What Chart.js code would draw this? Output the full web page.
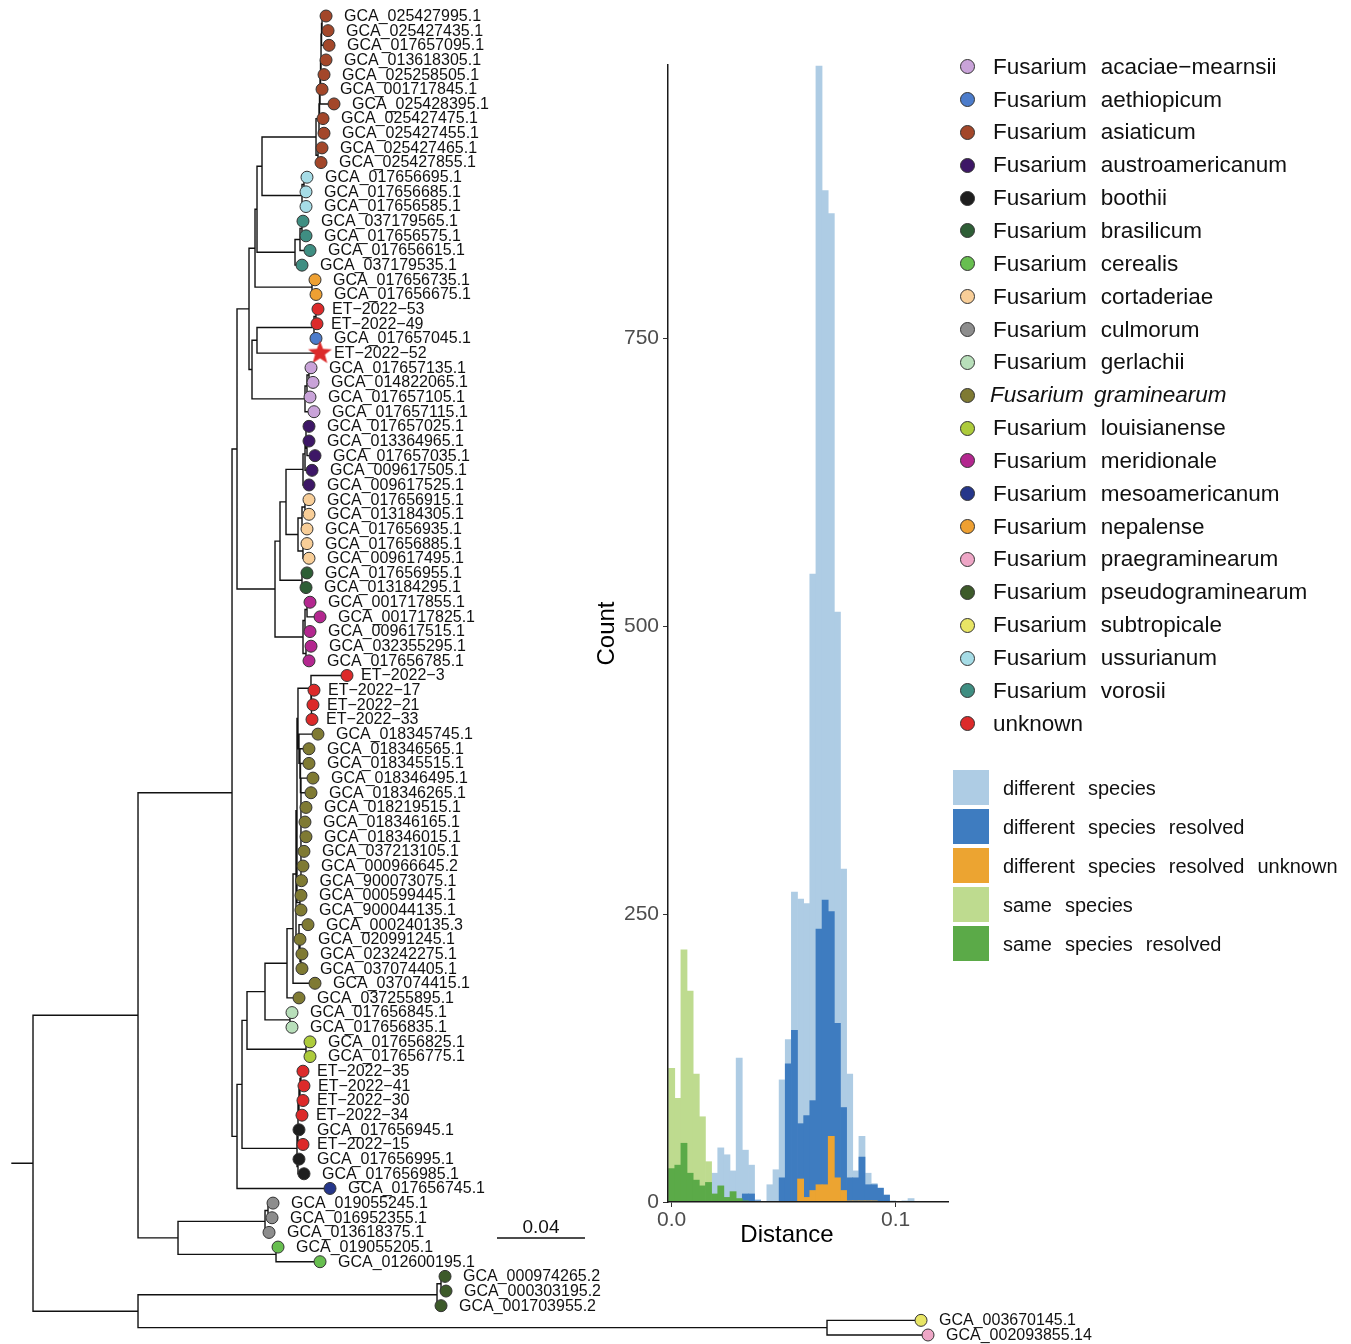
<!DOCTYPE html>
<html lang="en">
<head>
<meta charset="utf-8">
<title>Fusarium phylogeny and pairwise distance histogram</title>
<script src="https://cdn.jsdelivr.net/npm/chart.js@4.4.1/dist/chart.umd.min.js"></script>
<style>
  html, body { margin: 0; padding: 0; background: #ffffff; overflow: hidden; }
  #stage { position: relative; width: 1351px; height: 1344px; font-family: "Liberation Sans", Arial, Helvetica, sans-serif; color: #111; }
  #tree { position: absolute; left: 0; top: 0; }
  #hist { position: absolute; left: 560px; top: 40px; }
  .dot { position: absolute; width: 13px; height: 13px; border: 1px solid #333; border-radius: 50%; }
  .swatch { position: absolute; width: 36px; height: 35px; }
  .sp { position: absolute; font-size: 22.5px; line-height: 30px; white-space: nowrap; word-spacing: 7.75px; }
  .sp.it { font-style: italic; word-spacing: 4px; }
  .fl { position: absolute; font-size: 20px; line-height: 30px; white-space: nowrap; word-spacing: 7.5px; }
</style>
</head>
<body>
<div id="stage">
  <canvas id="tree" width="1351" height="1344"></canvas>
  <canvas id="hist" width="400" height="1230"></canvas>
</div>
<script>
// ---------------- species palette ----------------
const speciesKeys = [
  'acaciae−mearnsii', 'aethiopicum', 'asiaticum', 'austroamericanum', 'boothii',
  'brasilicum', 'cerealis', 'cortaderiae', 'culmorum', 'gerlachii', 'graminearum',
  'louisianense', 'meridionale', 'mesoamericanum', 'nepalense', 'praegraminearum',
  'pseudograminearum', 'subtropicale', 'ussurianum', 'vorosii', 'unknown'
];
const speciesColors = [
  '#C9A3D9', '#4C7CCB', '#A3472A', '#3D1766', '#1E1E1E',
  '#2E5E36', '#67BE4F', '#F8CE98', '#8D8D8D', '#B8DFBA', '#7F7A33',
  '#ADCB3B', '#B3278F', '#25368A', '#EEA032', '#EEA6C6',
  '#3D5A2A', '#E8E565', '#A6DCE6', '#3F8E82', '#DC2A2A'
];
const italicSpecies = ['graminearum'];

// ---------------- tips, top to bottom ----------------
const tipLabels = [
  'GCA_025427995.1', 'GCA_025427435.1', 'GCA_017657095.1', 'GCA_013618305.1', 'GCA_025258505.1',
  'GCA_001717845.1', 'GCA_025428395.1', 'GCA_025427475.1', 'GCA_025427455.1', 'GCA_025427465.1',
  'GCA_025427855.1', 'GCA_017656695.1', 'GCA_017656685.1', 'GCA_017656585.1', 'GCA_037179565.1',
  'GCA_017656575.1', 'GCA_017656615.1', 'GCA_037179535.1', 'GCA_017656735.1', 'GCA_017656675.1',
  'ET−2022−53', 'ET−2022−49', 'GCA_017657045.1', 'ET−2022−52', 'GCA_017657135.1',
  'GCA_014822065.1', 'GCA_017657105.1', 'GCA_017657115.1', 'GCA_017657025.1', 'GCA_013364965.1',
  'GCA_017657035.1', 'GCA_009617505.1', 'GCA_009617525.1', 'GCA_017656915.1', 'GCA_013184305.1',
  'GCA_017656935.1', 'GCA_017656885.1', 'GCA_009617495.1', 'GCA_017656955.1', 'GCA_013184295.1',
  'GCA_001717855.1', 'GCA_001717825.1', 'GCA_009617515.1', 'GCA_032355295.1', 'GCA_017656785.1',
  'ET−2022−3', 'ET−2022−17', 'ET−2022−21', 'ET−2022−33', 'GCA_018345745.1',
  'GCA_018346565.1', 'GCA_018345515.1', 'GCA_018346495.1', 'GCA_018346265.1', 'GCA_018219515.1',
  'GCA_018346165.1', 'GCA_018346015.1', 'GCA_037213105.1', 'GCA_000966645.2', 'GCA_900073075.1',
  'GCA_000599445.1', 'GCA_900044135.1', 'GCA_000240135.3', 'GCA_020991245.1', 'GCA_023242275.1',
  'GCA_037074405.1', 'GCA_037074415.1', 'GCA_037255895.1', 'GCA_017656845.1', 'GCA_017656835.1',
  'GCA_017656825.1', 'GCA_017656775.1', 'ET−2022−35', 'ET−2022−41', 'ET−2022−30',
  'ET−2022−34', 'GCA_017656945.1', 'ET−2022−15', 'GCA_017656995.1', 'GCA_017656985.1',
  'GCA_017656745.1', 'GCA_019055245.1', 'GCA_016952355.1', 'GCA_013618375.1', 'GCA_019055205.1',
  'GCA_012600195.1', 'GCA_000974265.2', 'GCA_000303195.2', 'GCA_001703955.2', 'GCA_003670145.1',
  'GCA_002093855.14'
];
const tipSpecies = [
  'asiaticum', 'asiaticum', 'asiaticum', 'asiaticum', 'asiaticum',
  'asiaticum', 'asiaticum', 'asiaticum', 'asiaticum', 'asiaticum',
  'asiaticum', 'ussurianum', 'ussurianum', 'ussurianum', 'vorosii',
  'vorosii', 'vorosii', 'vorosii', 'nepalense', 'nepalense',
  'unknown', 'unknown', 'aethiopicum', 'unknown', 'acaciae−mearnsii',
  'acaciae−mearnsii', 'acaciae−mearnsii', 'acaciae−mearnsii', 'austroamericanum', 'austroamericanum',
  'austroamericanum', 'austroamericanum', 'austroamericanum', 'cortaderiae', 'cortaderiae',
  'cortaderiae', 'cortaderiae', 'cortaderiae', 'brasilicum', 'brasilicum',
  'meridionale', 'meridionale', 'meridionale', 'meridionale', 'meridionale',
  'unknown', 'unknown', 'unknown', 'unknown', 'graminearum',
  'graminearum', 'graminearum', 'graminearum', 'graminearum', 'graminearum',
  'graminearum', 'graminearum', 'graminearum', 'graminearum', 'graminearum',
  'graminearum', 'graminearum', 'graminearum', 'graminearum', 'graminearum',
  'graminearum', 'graminearum', 'graminearum', 'gerlachii', 'gerlachii',
  'louisianense', 'louisianense', 'unknown', 'unknown', 'unknown',
  'unknown', 'boothii', 'unknown', 'boothii', 'boothii',
  'mesoamericanum', 'culmorum', 'culmorum', 'culmorum', 'cerealis',
  'cerealis', 'pseudograminearum', 'pseudograminearum', 'pseudograminearum', 'subtropicale',
  'praegraminearum'
];
const highlightedTip = 'ET−2022−52';

// ---------------- tree topology (Newick clades, branch lengths in substitutions/site) ----------------
const rootEdge = 0.00955;
const cladeAsiaticum = '(((((((((GCA_025427995.1:0.00182,GCA_025427435.1:0.00273):0.00023,GCA_017657095.1:0.00341):0.00023,GCA_013618305.1:0.00227):0,GCA_025258505.1:0.00136):0.00023,GCA_001717845.1:0.00068):0.00023,GCA_025428395.1:0.00636):0.00023,GCA_025427475.1:0.00159):0.00023,GCA_025427455.1:0.00227):0.00136,(GCA_025427465.1:0.00182,GCA_025427855.1:0.00136):0.00091)';
const cladeUssurianum = '((GCA_017656695.1:0.00136,GCA_017656685.1:0.00091):0.00091,GCA_017656585.1:0.00182)';
const cladeVorosii = '(((GCA_037179565.1:0.00045,GCA_017656575.1:0.00182):0.00091,GCA_017656615.1:0.00455):0.00227,GCA_037179535.1:0.00318)';
const cladeNepalense = '(GCA_017656735.1:0.00136,GCA_017656675.1:0.00182)';
const cladeAethiopicum = '((ET−2022−53:0.00091,ET−2022−49:0.00045):0.00091,GCA_017657045.1:0.00091)';
const cladeAcaciae = '(((GCA_017657135.1:0.00091,GCA_014822065.1:0.00182):0.00091,GCA_017657105.1:0.00136):0.00091,GCA_017657115.1:0.00409)';
const cladeAustro = '(((GCA_017657025.1:0.00136,(GCA_013364965.1:0.00091,GCA_017657035.1:0.00364):0.00045):0.00045,GCA_009617505.1:0.00318):0.00091,GCA_009617525.1:0.00273)';
const cladeCortaderiae = '(((GCA_017656915.1:0.00182,GCA_013184305.1:0.00182):0.00136,GCA_017656935.1:0.00227):0.00182,(GCA_017656885.1:0.00182,GCA_009617495.1:0.00273):0.00227)';
const cladeBrasilicum = '(GCA_017656955.1:0.00227,GCA_013184295.1:0.00182)';
const cladeMeridionale = '(((GCA_001717855.1:0.00136,GCA_001717825.1:0.00591):0.00091,GCA_009617515.1:0.00227):0.00091,(GCA_032355295.1:0.00227,GCA_017656785.1:0.00136):0.00136)';
const cladeET3 = '(ET−2022−3:0.01636,(ET−2022−17:0.00114,(ET−2022−21:0.00068,ET−2022−33:0.00023):0):0.00023)';
const gramUpper = '(GCA_018345745.1:0.00864,(GCA_018346565.1:0.00409,(GCA_018345515.1:0.00386,(GCA_018346495.1:0.00545,(GCA_018346265.1:0.00455,(GCA_018219515.1:0.00227,(GCA_018346165.1:0.00182,(GCA_018346015.1:0.00227,(GCA_037213105.1:0.00136,(GCA_000966645.2:0.00091,GCA_900073075.1:0.00023):0):0):0):0):0):0):0.00023):0.00023):0.00045)';
const gramLower = '(GCA_000240135.3:0.00409,(GCA_020991245.1:0,(GCA_023242275.1:0.00045,GCA_037074405.1:0.00045):0.00045):0.00045)';
const cladeGramET = `(((((${cladeET3}:0.00591,${gramUpper}:0.00045):0.00045,(GCA_000599445.1:0.00045,GCA_900044135.1:0.00045):0.00136):0.00045,${gramLower}:0.00136):0.00136,GCA_037074415.1:0.01):0.00273,GCA_037255895.1:0.00545)`;
const cladeGerlachii = '(GCA_017656845.1:0.00091,GCA_017656835.1:0.00091)';
const cladeLouisianense = '(GCA_017656825.1:0.00182,GCA_017656775.1:0.00182)';
const cladeBoothii = '((((((ET−2022−35:0.00091,ET−2022−41:0.00136):0.00045,ET−2022−30:0.00136):0.00045,ET−2022−34:0.00136):0.00045,GCA_017656945.1:0.00045):0,ET−2022−15:0.00227):0.00045,(GCA_017656995.1:0.00045,GCA_017656985.1:0.00273):0.00045)';
const cladeCulmorum = '((GCA_019055245.1:0.00227,GCA_016952355.1:0.00182):0.00136,GCA_013618375.1:0.00182)';
const cladeCerealis = '(GCA_019055205.1:0.00091,GCA_012600195.1:0.02)';
const cladePseudogram = '((GCA_000974265.2:0.00182,GCA_000303195.2:0.00227):0.00182,GCA_001703955.2:0.00182)';
const cladeOutgroup = '(GCA_003670145.1:0.04273,GCA_002093855.14:0.04591)';

const treeNewick = `(
 (
  (
   (
    (
     (
      (
       (${cladeAsiaticum}:0.02455,${cladeUssurianum}:0.01818):0.00227,
       ${cladeVorosii}:0.01727
      ):0.00091,
      ${cladeNepalense}:0.02591
     ):0.00273,
     ((${cladeAethiopicum}:0.02591,ET−2022−52:0.02864):0.00227,${cladeAcaciae}:0.02409):0.00136
    ):0.00545,
    (((${cladeAustro}:0.00773,${cladeCortaderiae}:0.00545):0.00273,${cladeBrasilicum}:0.01):0.00227,${cladeMeridionale}:0.01273):0.01727
   ):0.00227,
   ((((${cladeGramET}:0.01,${cladeGerlachii}:0.01136):0.00818,${cladeLouisianense}:0.02682):0.00227,${cladeBoothii}:0.025):0.00227,GCA_017656745.1:0.04227):0.00227
  ):0.04273,
  (${cladeCulmorum}:0.03955,${cladeCerealis}:0.04455):0.01818
 ):0.04773,
 (${cladePseudogram}:0.13591,${cladeOutgroup}:0.31318):0.04773
);`;

// scale bar
const scaleBarLength = 0.04;
const scaleBarLabel = '0.04';
const scaleBarX = 0.22045;
const scaleBarRow = 84.38;

// ---------------- pairwise distance histogram ----------------
const distanceBins = [
  0, 0.00274, 0.00548, 0.00822, 0.01096, 0.0137, 0.01644, 0.01918, 0.02192, 0.02466,
  0.0274, 0.03014, 0.03288, 0.03562, 0.03836, 0.0411, 0.04384, 0.04658, 0.04932, 0.05206,
  0.0548, 0.05754, 0.06028, 0.06302, 0.06576, 0.0685, 0.07124, 0.07398, 0.07672, 0.07946,
  0.0822, 0.08494, 0.08768, 0.09042, 0.09316, 0.0959, 0.09864, 0.10138, 0.10412, 0.10686
];
const diffSpecies = [
  0, 0, 0, 0, 0, 0, 0, 25, 47, 41,
  27, 125, 45, 32, 2, 0, 15, 28, 106, 141,
  269, 263, 259, 545, 986, 878, 858, 512, 289, 111,
  27, 57, 25, 16, 12, 6, 1, 0, 1, 3
];
const diffResolved = [
  0, 0, 0, 0, 0, 0, 0, 0, 0, 0,
  0, 0, 7, 7, 1, 0, 0, 0, 21, 120,
  149, 68, 75, 88, 237, 262, 252, 155, 82, 21,
  21, 39, 15, 15, 12, 6, 0, 0, 0, 0
];
const diffResolvedUnknown = [
  0, 0, 0, 0, 0, 0, 0, 0, 0, 0,
  0, 0, 0, 0, 0, 0, 0, 0, 0, 0,
  0, 20, 4, 10, 15, 15, 57, 21, 10, 1,
  1, 1, 1, 1, 0, 0, 0, 0, 0, 0
];
const sameSpecies = [
  116, 90, 219, 183, 111, 74, 35, 0, 0, 0,
  0, 0, 0, 0, 0, 0, 0, 0, 0, 0,
  0, 0, 0, 0, 0, 0, 0, 0, 0, 0,
  0, 0, 0, 0, 0, 0, 0, 0, 0, 0
];
const sameResolved = [
  29, 32, 51, 25, 19, 14, 17, 7, 14, 4,
  9, 3, 1, 0, 0, 0, 0, 0, 0, 0,
  0, 0, 0, 0, 0, 0, 0, 0, 0, 0,
  0, 0, 0, 0, 0, 0, 0, 0, 0, 0
];
const histSeriesNames = ['different species', 'different species resolved', 'different species resolved unknown', 'same species', 'same species resolved'];
const histSeriesColors = ['#AECCE4', '#3E7CC0', '#ECA431', '#BEDB8F', '#5BAA48'];
const distanceTicks = [0, 0.1];
const countTicks = [0, 250, 500, 750];

// =====================================================================
const FONT = '"Liberation Sans", Arial, Helvetica, sans-serif';
Chart.defaults.font.family = FONT;
Chart.defaults.animation = false;

function parseNewick(text) {
  const s = text.replace(/\s+/g, '');
  let i = 0;
  function node() {
    const n = { name: '', length: 0, children: [] };
    if (s[i] === '(') {
      i++;
      n.children.push(node());
      while (s[i] === ',') { i++; n.children.push(node()); }
      i++; // closing paren
    }
    let name = '';
    while (i < s.length && !',():;'.includes(s[i])) name += s[i++];
    n.name = name;
    if (s[i] === ':') {
      i++;
      let num = '';
      while (i < s.length && !',();'.includes(s[i])) num += s[i++];
      n.length = parseFloat(num);
    }
    return n;
  }
  return node();
}

// rectangular layout: tips get consecutive rows, internal nodes sit at the mean of their children
function layoutTree(n, x, tips) {
  n.x = x;
  if (!n.children.length) {
    n.y = tips.length + 1;
    tips.push(n);
  } else {
    n.children.forEach(c => layoutTree(c, x + c.length, tips));
    n.y = n.children.reduce((a, c) => a + c.y, 0) / n.children.length;
  }
}

const GAP = { x: NaN, y: NaN };
function collectBranches(n, parentX, out) {
  if (parentX !== null) out.push({ x: parentX, y: n.y }, { x: n.x, y: n.y }, GAP);
  if (n.children.length) {
    const ys = n.children.map(c => c.y);
    out.push({ x: n.x, y: Math.min(...ys) }, { x: n.x, y: Math.max(...ys) }, GAP);
    n.children.forEach(c => collectBranches(c, n.x, out));
  }
}

const treeRoot = parseNewick(treeNewick);
const tips = [];
layoutTree(treeRoot, rootEdge, tips);
if (tips.length !== tipLabels.length) throw new Error('tip count ' + tips.length);
tips.forEach((t, k) => { if (t.name !== tipLabels[k]) throw new Error('tip order at ' + k + ': ' + t.name); });

const branchPath = [{ x: 0, y: treeRoot.y }, { x: rootEdge, y: treeRoot.y }, GAP];
collectBranches(treeRoot, null, branchPath);

function starMarker(color, outer, inner) {
  const size = Math.ceil(outer * 2 + 2);
  const c = document.createElement('canvas');
  c.width = size; c.height = size;
  const g = c.getContext('2d');
  g.translate(size / 2, size / 2);
  g.beginPath();
  for (let k = 0; k < 10; k++) {
    const r = k % 2 ? inner : outer;
    const a = -Math.PI / 2 + k * Math.PI / 5;
    g.lineTo(r * Math.cos(a), r * Math.sin(a));
  }
  g.closePath();
  g.fillStyle = color;
  g.fill();
  return c;
}

const colorOf = key => speciesColors[speciesKeys.indexOf(key)];
const tipPoints = tips.map(t => ({ x: t.x, y: t.y }));
const tipFill = tipSpecies.map(colorOf);
const star = starMarker(colorOf('unknown'), 12.5, 5.2);
const tipStyle = tipLabels.map(l => (l === highlightedTip ? star : 'circle'));

const tipLabelPlugin = {
  id: 'tipLabels',
  afterDatasetsDraw(chart) {
    const { ctx, scales: { x, y } } = chart;
    ctx.save();
    ctx.fillStyle = '#111';
    ctx.font = '16px ' + FONT;
    ctx.textBaseline = 'middle';
    ctx.textAlign = 'left';
    tips.forEach(t => {
      const gap = t.name.startsWith('ET') ? 14 : 18;
      ctx.fillText(t.name, x.getPixelForValue(t.x) + gap, y.getPixelForValue(t.y) + 0.5);
    });
    ctx.font = '19px ' + FONT;
    ctx.textAlign = 'center';
    ctx.textBaseline = 'alphabetic';
    ctx.fillText(scaleBarLabel, x.getPixelForValue(scaleBarX + scaleBarLength / 2), y.getPixelForValue(scaleBarRow) - 5);
    ctx.restore();
  }
};

new Chart(document.getElementById('tree'), {
  type: 'scatter',
  data: {
    datasets: [
      { data: branchPath, showLine: true, borderColor: '#111', borderWidth: 1.4, borderCapStyle: 'square',
        pointRadius: 0, pointHitRadius: 0, spanGaps: false, tension: 0, order: 2, clip: false },
      { data: [{ x: scaleBarX, y: scaleBarRow }, { x: scaleBarX + scaleBarLength, y: scaleBarRow }],
        showLine: true, borderColor: '#111', borderWidth: 1.4, pointRadius: 0, order: 2, clip: false },
      { data: tipPoints, showLine: false, pointRadius: 6, pointBorderWidth: 1,
        pointBackgroundColor: tipFill, pointBorderColor: '#333', pointStyle: tipStyle, order: 0, clip: false }
    ]
  },
  options: {
    responsive: false, animation: false, events: [],
    layout: { padding: 0, autoPadding: false },
    plugins: { legend: { display: false }, tooltip: { enabled: false } },
    scales: {
      x: { type: 'linear', display: false, min: -12 / 2200, max: 1339 / 2200 },
      y: { type: 'linear', display: false, reverse: true, min: -0.09174, max: 91.614 }
    }
  },
  plugins: [tipLabelPlugin]
});

// ---------------- histogram ----------------
const histValues = [diffSpecies, diffResolved, diffResolvedUnknown, sameSpecies, sameResolved];
const histOrder = [5, 3, 1, 4, 2]; // larger order is painted first
const histDatasets = histSeriesNames.map((name, s) => ({
  label: name,
  data: distanceBins.map((d, k) => ({ x: d, y: histValues[s][k] })),
  backgroundColor: histSeriesColors[s],
  borderWidth: 0,
  grouped: false,
  barPercentage: 1,
  categoryPercentage: 1,
  order: histOrder[s]
}));

const distanceTitle = {
  id: 'distanceTitle',
  afterDraw(chart) {
    const { ctx, chartArea } = chart;
    ctx.save();
    ctx.font = '24px ' + FONT;
    ctx.fillStyle = '#000';
    ctx.textAlign = 'center';
    ctx.textBaseline = 'middle';
    ctx.fillText('Distance', chartArea.left + 119, chartArea.bottom + 33);
    ctx.restore();
  }
};

new Chart(document.getElementById('hist'), {
  type: 'bar',
  data: { datasets: histDatasets },
  options: {
    responsive: false, animation: false, events: [],
    layout: { padding: { left: 0, right: 12, top: 25, bottom: 0 }, autoPadding: false },
    plugins: { legend: { display: false }, tooltip: { enabled: false } },
    scales: {
      x: {
        type: 'linear', min: -0.00165, max: 0.12335, offset: false,
        grid: { display: true, drawOnChartArea: false, drawTicks: true, tickLength: 5, color: '#333', offset: false },
        border: { display: true, color: '#1a1a1a', width: 1.5, z: 1 },
        afterBuildTicks: s => { s.ticks = distanceTicks.map(v => ({ value: v })); },
        afterFit: s => { s.height = 68; },
        ticks: { callback: v => Number(v).toFixed(1), color: '#4D4D4D', font: { size: 21 }, padding: 1, maxRotation: 0, autoSkip: false }
      },
      y: {
        type: 'linear', min: 0, max: 987,
        grid: { display: true, drawOnChartArea: false, drawTicks: true, tickLength: 5, color: '#333' },
        border: { display: true, color: '#1a1a1a', width: 1.5, z: 1 },
        afterBuildTicks: s => { s.ticks = countTicks.map(v => ({ value: v })); },
        afterFit: s => { s.width = 108; },
        ticks: { color: '#4D4D4D', font: { size: 21 }, padding: 4 },
        title: { display: true, text: 'Count', color: '#000', font: { size: 24 }, padding: { top: 33, bottom: 0 } }
      }
    }
  },
  plugins: [distanceTitle]
});

// ---------------- legends ----------------
const stage = document.getElementById('stage');
speciesKeys.forEach((key, i) => {
  const cy = 66.7 + i * 32.85;
  const dot = document.createElement('div');
  dot.className = 'dot';
  dot.style.left = (967.5 - 7.5) + 'px';
  dot.style.top = (cy - 7.5) + 'px';
  dot.style.background = speciesColors[i];
  stage.appendChild(dot);
  const label = document.createElement('div');
  const italic = italicSpecies.includes(key);
  label.className = italic ? 'sp it' : 'sp';
  label.textContent = key === 'unknown' ? 'unknown' : 'Fusarium ' + key;
  label.style.left = (italic ? 990 : 993) + 'px';
  label.style.top = (cy - 15) + 'px';
  stage.appendChild(label);
});
histSeriesNames.forEach((name, i) => {
  const cy = 787.5 + i * 39.1;
  const box = document.createElement('div');
  box.className = 'swatch';
  box.style.left = '953px';
  box.style.top = (cy - 17.5) + 'px';
  box.style.background = histSeriesColors[i];
  stage.appendChild(box);
  const label = document.createElement('div');
  label.className = 'fl';
  label.textContent = name;
  label.style.left = '1003px';
  label.style.top = (cy - 15) + 'px';
  stage.appendChild(label);
});
</script>
</body>
</html>
